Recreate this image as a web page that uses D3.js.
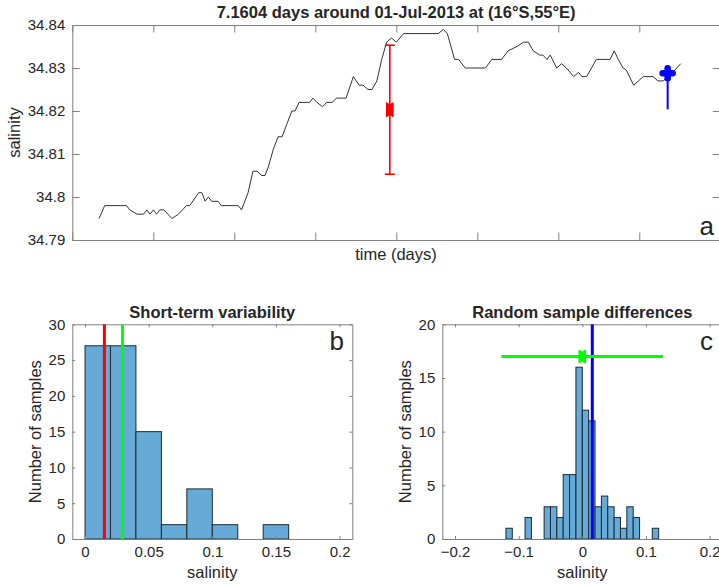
<!DOCTYPE html>
<html>
<head>
<meta charset="utf-8">
<script src="https://cdn.jsdelivr.net/npm/d3@7/dist/d3.min.js"></script>
<style>
body{margin:0;background:#fff;}
svg text{font-family:"Liberation Sans",Arial,Helvetica,sans-serif;fill:#262626;}
.axis path,.axis line{stroke:#808080;stroke-width:1;}
.axis text{font-size:15px;fill:#262626;}
</style>
</head>
<body>
<div class="graphics"></div>
<script>
// panel a : salinity time series, time in days from start of the window
var timeDays = [0.33,0.40,0.67,0.71,0.80,0.88,0.92,0.96,1.00,1.04,1.08,1.13,1.23,1.31,1.41,1.45,1.56,1.60,1.64,1.68,1.72,1.80,1.84,2.05,2.09,2.17,2.23,2.28,2.34,2.38,2.42,2.48,2.54,2.59,2.65,2.71,2.75,2.80,2.93,2.97,3.02,3.09,3.14,3.21,3.26,3.38,3.47,3.54,3.59,3.65,3.70,3.76,3.82,3.88,3.94,4.00,4.09,4.52,4.58,4.63,4.72,4.77,4.85,5.10,5.18,5.30,5.38,5.49,5.57,5.63,5.69,5.77,5.81,5.86,5.90,5.98,6.04,6.10,6.19,6.25,6.29,6.35,6.47,6.64,6.69,6.74,6.80,6.84,6.93,6.99,7.05,7.17,7.23,7.30,7.36,7.44,7.51]
var salinity = [34.795,34.798,34.798,34.797,34.796,34.796,34.797,34.796,34.797,34.796,34.797,34.797,34.795,34.796,34.798,34.798,34.801,34.801,34.799,34.800,34.799,34.799,34.798,34.798,34.797,34.801,34.806,34.806,34.805,34.805,34.807,34.811,34.814,34.814,34.817,34.820,34.820,34.822,34.822,34.823,34.822,34.821,34.822,34.822,34.823,34.823,34.828,34.826,34.826,34.825,34.825,34.827,34.832,34.836,34.837,34.836,34.838,34.838,34.839,34.838,34.832,34.832,34.830,34.830,34.832,34.832,34.834,34.835,34.836,34.836,34.834,34.833,34.833,34.832,34.833,34.830,34.831,34.830,34.828,34.829,34.828,34.828,34.832,34.832,34.834,34.832,34.830,34.8295,34.826,34.827,34.828,34.828,34.827,34.827,34.8284,34.8295,34.831]
var timeTicks = [0,1,2,3,4,5,6,7,8]
var salTicks = [34.79,34.8,34.81,34.82,34.83,34.84]

// red errorbar (mean +- error) and blue marker with its drop line
var redPoint = {t:3.92, mean:34.8203, err:0.015}
var bluePoint = {t:7.35, mean:34.8288, low:34.8204}

// panel b : short-term variability histogram
var edgesB = [0,0.02,0.04,0.06,0.08,0.10,0.12,0.14,0.16]
var countsB = [27,27,15,2,7,2,0,2]
var xTicksB = [0,0.05,0.1,0.15,0.2]
var yTicksB = [0,5,10,15,20,25,30]
var redLineB = 0.0152
var greenLineB = 0.0294

// panel c : random sample differences histogram
var edgesC = [-0.12,-0.11,-0.10,-0.09,-0.08,-0.07,-0.06,-0.05,-0.04,-0.03,-0.02,-0.01,0,0.01,0.02,0.03,0.04,0.05,0.06,0.07,0.08,0.09,0.10,0.11,0.12]
var countsC = [1,0,0,2,0,0,3,3,2,6,6,16,12,11,3,4,3,2,1,3,2,0,0,1]
var xTicksC = [-0.2,-0.1,0,0.1,0.2]
var yTicksC = [0,5,10,15,20]
var blueLineC = 0.0157
var greenBar = {y:17, center:0, half:0.127}

var W = 719, H = 585
var svg = d3.select('.graphics').append('svg')
    .attr('width', W).attr('height', H)

var histFill = '#66aad7'

// draws the box with inward ticks on all 4 sides (matlab style)
function boxAxes(g, x, y, w, h, xt, yt, tick, xfmt, yfmt){
    g.append('g').attr('class','axis').attr('transform','translate(0,'+h+')')
        .call(d3.axisBottom(x).tickValues(xt).tickSizeInner(-tick).tickSizeOuter(0).tickPadding(7).tickFormat(xfmt))
    g.append('g').attr('class','axis')
        .call(d3.axisTop(x).tickValues(xt).tickSizeInner(-tick).tickSizeOuter(0).tickFormat(''))
    g.append('g').attr('class','axis')
        .call(d3.axisLeft(y).tickValues(yt).tickSizeInner(-tick).tickSizeOuter(0).tickPadding(7).tickFormat(yfmt))
    g.append('g').attr('class','axis').attr('transform','translate('+w+',0)')
        .call(d3.axisRight(y).tickValues(yt).tickSizeInner(-tick).tickSizeOuter(0).tickFormat(''))
}

function bowtie(g, cx, cy, hw, hh, color){
    g.append('path')
        .attr('d','M'+(cx-hw)+','+(cy-hh)+'L'+cx+','+(cy-hh+2)+'L'+(cx+hw)+','+(cy-hh)+
              'L'+(cx+hw)+','+(cy+hh)+'L'+cx+','+(cy+hh-2)+'L'+(cx-hw)+','+(cy+hh)+'Z')
        .attr('fill', color).attr('stroke', color).attr('stroke-width', 1)
}

// ---------- panel a ----------
function panelA(){
    var left = 72.3, top = 25, w = 648, h = 215
    var g = svg.append('g').attr('transform','translate('+left+','+top+')')
    var x = d3.scaleLinear().domain([0,8]).range([0,w])
    var y = d3.scaleLinear().domain([34.79,34.84]).range([h,0])

    boxAxes(g, x, y, w, h, timeTicks, salTicks, 7.5, function(){return ''}, function(d){return d3.format('')(+d.toFixed(2))})
    g.select('.axis').selectAll('text').remove()

    var pts = timeDays.map(function(t,i){ return [t, salinity[i]] })
    g.append('path').datum(pts)
        .attr('fill','none').attr('stroke','#333').attr('stroke-width',1)
        .attr('d', d3.line().x(function(d){return x(d[0])}).y(function(d){return y(d[1])}))

    // red errorbar
    var rx = x(redPoint.t)
    g.append('line').attr('x1',rx).attr('x2',rx)
        .attr('y1',y(redPoint.mean-redPoint.err)).attr('y2',y(redPoint.mean+redPoint.err))
        .attr('stroke','red').attr('stroke-width',1.6)
    ;[redPoint.mean-redPoint.err, redPoint.mean+redPoint.err].forEach(function(v){
        g.append('line').attr('x1',rx-5).attr('x2',rx+5).attr('y1',y(v)).attr('y2',y(v))
            .attr('stroke','red').attr('stroke-width',1.6)
    })
    bowtie(g, rx, y(redPoint.mean), 3.3, 7, 'red')

    // blue marker + drop line
    var bx = x(bluePoint.t)
    g.append('line').attr('x1',bx).attr('x2',bx)
        .attr('y1',y(bluePoint.mean)).attr('y2',y(bluePoint.low))
        .attr('stroke','blue').attr('stroke-width',2)
    var by = y(bluePoint.mean)
    g.append('line').attr('x1',bx-5).attr('x2',bx+5).attr('y1',by).attr('y2',by)
        .attr('stroke','blue').attr('stroke-width',6.5).attr('stroke-linecap','round')
    g.append('line').attr('x1',bx).attr('x2',bx).attr('y1',by-5).attr('y2',by+5)
        .attr('stroke','blue').attr('stroke-width',6.5).attr('stroke-linecap','round')

    svg.append('text').attr('x', left + w/2 - 72.3/2 + 36).attr('y',18)
        .attr('text-anchor','middle').attr('font-size','16.5px').attr('font-weight','bold')
        .attr('fill','#000')
        .text('7.1604 days around 01-Jul-2013 at (16°S,55°E)')
    svg.append('text').attr('x',396).attr('y',260).attr('text-anchor','middle')
        .attr('font-size','16.5px').text('time (days)')
    svg.append('text').attr('transform','translate(19.5,132.5) rotate(-90)')
        .attr('text-anchor','middle').attr('font-size','16.5px').text('salinity')
    svg.append('text').attr('x',714).attr('y',235).attr('text-anchor','end')
        .attr('font-size','26px').attr('fill','#000').text('a')
}

// ---------- histogram panels ----------
function histPanel(o){
    var g = svg.append('g').attr('transform','translate('+o.left+','+o.top+')')
    var x = d3.scaleLinear().domain(o.xdom).range([0,o.w])
    var y = d3.scaleLinear().domain(o.ydom).range([o.h,0])

    var bins = o.counts.map(function(c,i){ return {x0:o.edges[i], x1:o.edges[i+1], n:c} })
        .filter(function(b){ return b.n > 0 })
    g.selectAll('rect.bar').data(bins).enter().append('rect')
        .attr('class','bar')
        .attr('x', function(d){return x(d.x0)})
        .attr('width', function(d){return x(d.x1)-x(d.x0)})
        .attr('y', function(d){return y(d.n)})
        .attr('height', function(d){return y(0)-y(d.n)})
        .attr('fill', histFill).attr('stroke','#1c2a33').attr('stroke-width',1)

    boxAxes(g, x, y, o.w, o.h, o.xticks, o.yticks, 3, function(d){return d3.format('')(+d.toFixed(2))}, d3.format('d'))
    o.extras(g, x, y)

    var cx = o.left + o.w/2
    svg.append('text').attr('x', cx).attr('y', 318).attr('text-anchor','middle')
        .attr('font-size','16.5px').attr('font-weight','bold').attr('fill','#000').text(o.title)
    svg.append('text').attr('x', cx).attr('y', 578).attr('text-anchor','middle')
        .attr('font-size','16.5px').text('salinity')
    svg.append('text').attr('transform','translate('+o.ylabX+','+(o.top+o.h/2)+') rotate(-90)')
        .attr('text-anchor','middle').attr('font-size','16.5px').text('Number of samples')
    svg.append('text').attr('x', o.letterX).attr('y', 350).attr('text-anchor','end')
        .attr('font-size','26px').attr('fill','#000').text(o.letter)
}

panelA()

histPanel({left:72.3, top:324.3, w:280, h:214.7, xdom:[-0.01,0.21], ydom:[0,30],
    edges:edgesB, counts:countsB, xticks:xTicksB, yticks:yTicksB,
    title:'Short-term variability', ylabX:41, letter:'b', letterX:344,
    extras:function(g,x,y){
        g.append('line').attr('x1',x(redLineB)).attr('x2',x(redLineB)).attr('y1',0).attr('y2',y(0))
            .attr('stroke','#ff0000').attr('stroke-width',3)
        g.append('line').attr('x1',x(greenLineB)).attr('x2',x(greenLineB)).attr('y1',0).attr('y2',y(0))
            .attr('stroke','#00ff00').attr('stroke-width',3)
    }})

histPanel({left:442.3, top:324.3, w:280, h:214.7, xdom:[-0.22,0.22], ydom:[0,20],
    edges:edgesC, counts:countsC, xticks:xTicksC, yticks:yTicksC,
    title:'Random sample differences', ylabX:410.5, letter:'c', letterX:713,
    extras:function(g,x,y){
        g.append('line').attr('x1',x(blueLineC)).attr('x2',x(blueLineC)).attr('y1',0).attr('y2',y(0))
            .attr('stroke','#0000ff').attr('stroke-width',3)
        var gy = y(greenBar.y)
        g.append('line').attr('x1',x(greenBar.center-greenBar.half)).attr('x2',x(greenBar.center+greenBar.half))
            .attr('y1',gy).attr('y2',gy).attr('stroke','#00ff00').attr('stroke-width',2.8)
        bowtie(g, x(greenBar.center), gy, 3.3, 6.5, '#00ff00')
    }})
</script>
</body>
</html>
